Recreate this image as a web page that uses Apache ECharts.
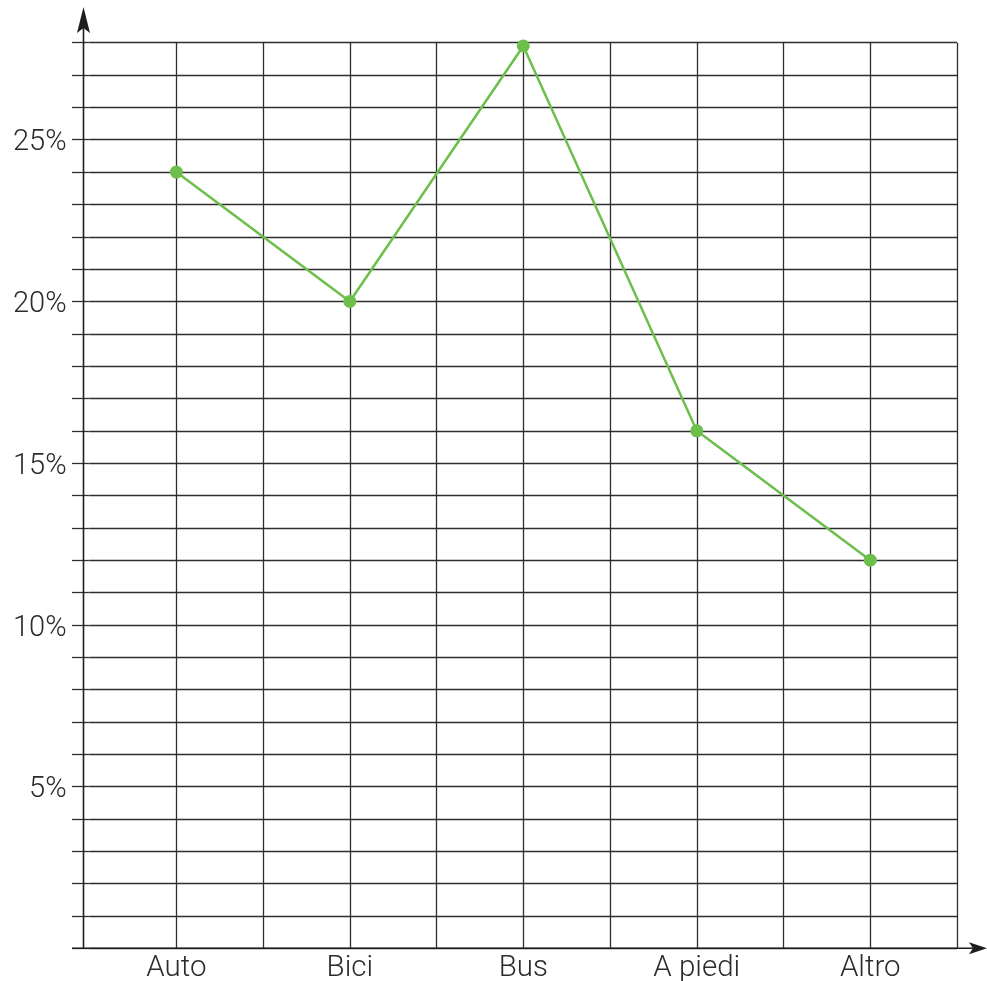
<!DOCTYPE html>
<html>
<head>
<meta charset="utf-8">
<script src="https://cdn.jsdelivr.net/npm/echarts@6/dist/echarts.min.js"></script>
<style>html,body{margin:0;padding:0;background:#fff}#c{width:987px;height:981px}</style>
</head>
<body>
<div id="c"></div>
<script>
const categories = ['Auto', 'Bici', 'Bus', 'A piedi', 'Altro'];
const values = [24, 20, 27.9, 16, 12];
const yLabelSteps = [5, 10, 15, 20, 25];

const FONT = 'Roboto, "Liberation Sans", sans-serif';
const G = { left: 89.6, right: 30, top: 42.7, bottom: 32.7 };
const W = 987, H = 981;
const axisX = 83.5, axisY = H - G.bottom;

const chart = echarts.init(document.getElementById('c'), null, { renderer: 'canvas' });
chart.setOption({
  animation: false,
  backgroundColor: '#fff',
  grid: { left: G.left, right: G.right, top: G.top, bottom: G.bottom, containLabel: false, outerBoundsMode: 'none' },
  xAxis: [
    {
      type: 'category', data: categories, boundaryGap: true,
      axisLine: { show: false }, axisTick: { show: false }, splitLine: { show: false },
      axisLabel: { color: '#2b2b2b', fontFamily: FONT, fontWeight: 300, fontSize: 29.5, margin: 5 }
    },
    {
      type: 'value', min: 0, max: 10, interval: 1, position: 'bottom',
      axisLine: { show: false }, axisTick: { show: false }, axisLabel: { show: false },
      splitLine: { show: true, showMinLine: false, lineStyle: { color: '#2e2e2e', width: 1.3 } }
    }
  ],
  yAxis: {
    type: 'value', min: 0, max: 28, interval: 1,
    axisLine: { show: false },
    axisTick: { show: true, length: 17.6, lineStyle: { color: '#2e2e2e', width: 1.3 } },
    splitLine: { show: true, lineStyle: { color: '#2e2e2e', width: 1.3 } },
    axisLabel: {
      color: '#2b2b2b', fontFamily: FONT, fontWeight: 300, fontSize: 29, margin: 23,
      formatter: v => yLabelSteps.includes(v) ? '{a|' + v + '%}' : '',
      rich: { a: { color: '#2b2b2b', fontFamily: FONT, fontWeight: 300, fontSize: 29, padding: [7, 0, 0, 0] } }
    }
  },
  series: [{
    type: 'line', xAxisIndex: 0, data: values,
    symbol: 'circle', symbolSize: 13,
    lineStyle: { color: '#6cbf4a', width: 2.5 },
    itemStyle: { color: '#6cbf4a' },
    z: 5
  }],
  graphic: [
    { type: 'line', shape: { x1: axisX, y1: axisY, x2: axisX, y2: 22 }, style: { stroke: '#1e1e1e', lineWidth: 1.6 }, z: 10 },
    { type: 'polygon', shape: { points: [[axisX, 7], [axisX - 6.5, 33], [axisX, 28], [axisX + 6.5, 33]] }, style: { fill: '#1e1e1e' }, z: 10 },
    { type: 'line', shape: { x1: 72, y1: axisY, x2: 975, y2: axisY }, style: { stroke: '#1e1e1e', lineWidth: 1.6 }, z: 10 },
    { type: 'polygon', shape: { points: [[987, axisY], [969, axisY - 6], [973, axisY], [969, axisY + 6]] }, style: { fill: '#1e1e1e' }, z: 10 }
  ]
});
</script>
</body>
</html>
